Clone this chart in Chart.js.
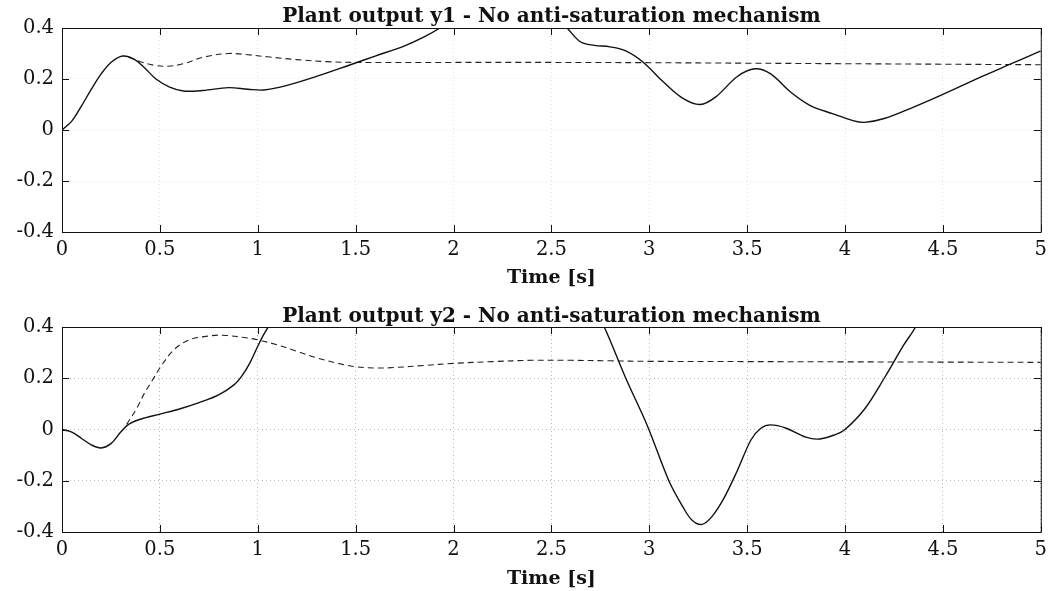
<!DOCTYPE html>
<html><head><meta charset="utf-8">
<script src="https://cdn.jsdelivr.net/npm/chart.js@4"></script>
<style>
html,body{margin:0;padding:0;background:#fff;}
canvas{position:absolute;left:0;}
#c1{top:0px}
#c2{top:296px}
</style>
</head><body>
<canvas id="c1" width="1053" height="296"></canvas>
<canvas id="c2" width="1053" height="295"></canvas>
<script>
// ---- tick values and labels ----
const xTicks = [0, 0.5, 1, 1.5, 2, 2.5, 3, 3.5, 4, 4.5, 5];
const xTickLabels = ['0', '0.5', '1', '1.5', '2', '2.5', '3', '3.5', '4', '4.5', '5'];
const yTicks = [-0.4, -0.2, 0, 0.2, 0.4];
const yTickLabels = ['-0.4', '-0.2', '0', '0.2', '0.4'];

const title1 = 'Plant output y1 - No anti-saturation mechanism';
const title2 = 'Plant output y2 - No anti-saturation mechanism';
const xTitle = 'Time [s]';

// ---- y1 (top plot) ----
const y1SolidT = [0, 0.05, 0.1, 0.15, 0.2, 0.25, 0.31, 0.37, 0.42, 0.48, 0.55, 0.62, 0.72, 0.85, 0.95, 1.03, 1.15, 1.3, 1.47, 1.6, 1.75, 1.85, 1.93, 2.0, 2.2, 2.4, 2.5, 2.58, 2.65, 2.72, 2.8, 2.88, 2.97, 3.07, 3.17, 3.26, 3.34, 3.45, 3.54, 3.62, 3.72, 3.82, 3.94, 4.04, 4.1, 4.2, 4.35, 4.5, 4.7, 4.85, 5.0];
const y1SolidV = [0, 0.035, 0.095, 0.16, 0.22, 0.265, 0.29, 0.277, 0.245, 0.2, 0.168, 0.153, 0.155, 0.166, 0.16, 0.157, 0.175, 0.21, 0.255, 0.29, 0.33, 0.365, 0.40, 0.44, 0.5, 0.5, 0.46, 0.40, 0.345, 0.332, 0.326, 0.31, 0.265, 0.19, 0.125, 0.10, 0.13, 0.21, 0.24, 0.22, 0.15, 0.097, 0.063, 0.037, 0.03, 0.045, 0.09, 0.14, 0.21, 0.26, 0.31];
const y1DashT = [0.34, 0.4, 0.47, 0.54, 0.62, 0.72, 0.85, 0.95, 1.05, 1.2, 1.35, 1.5, 2.0, 2.5, 3.0, 3.5, 4.0, 4.5, 5.0];
const y1DashV = [0.285, 0.268, 0.254, 0.25, 0.26, 0.285, 0.30, 0.295, 0.287, 0.276, 0.268, 0.265, 0.265, 0.265, 0.264, 0.262, 0.26, 0.258, 0.256];

// ---- y2 (bottom plot) ----
const y2SolidT = [0, 0.05, 0.1, 0.15, 0.2, 0.25, 0.3, 0.34, 0.4, 0.5, 0.6, 0.7, 0.8, 0.88, 0.92, 0.96, 1.0, 1.03, 1.06, 1.1, 1.5, 2.0, 2.5, 2.7, 2.77, 2.88, 2.99, 3.1, 3.17, 3.22, 3.27, 3.32, 3.38, 3.45, 3.52, 3.57, 3.62, 3.7, 3.8, 3.87, 3.95, 4.0, 4.1, 4.2, 4.3, 4.36, 4.45];
const y2SolidV = [0, -0.01, -0.035, -0.06, -0.072, -0.055, -0.01, 0.02, 0.04, 0.06, 0.08, 0.105, 0.135, 0.175, 0.21, 0.26, 0.325, 0.37, 0.41, 0.48, 0.8, 0.9, 0.7, 0.5, 0.40, 0.2, 0.015, -0.2, -0.3, -0.355, -0.37, -0.34, -0.27, -0.16, -0.04, 0.005, 0.018, 0.005, -0.03, -0.037, -0.02, 0.0, 0.08, 0.2, 0.33, 0.40, 0.55];
const y2DashT = [0.33, 0.38, 0.42, 0.46, 0.5, 0.57, 0.65, 0.75, 0.82, 0.92, 1.0, 1.1, 1.2, 1.3, 1.4, 1.5, 1.6, 1.7, 1.85, 2.0, 2.2, 2.4, 2.6, 2.8, 3.0, 3.5, 4.0, 4.5, 5.0];
const y2DashV = [0.02, 0.08, 0.14, 0.19, 0.24, 0.31, 0.35, 0.365, 0.368, 0.36, 0.35, 0.33, 0.305, 0.28, 0.26, 0.245, 0.24, 0.242, 0.25, 0.258, 0.265, 0.27, 0.27, 0.268, 0.266, 0.265, 0.264, 0.263, 0.262];

const zip = (t, v) => t.map((x, i) => ({x: x, y: v[i]}));

const frameTicks = {
  id: 'frameTicks',
  afterDraw(chart) {
    const {ctx, chartArea: a, scales: {x, y}} = chart;
    const L = 7;
    ctx.save();
    ctx.strokeStyle = '#111';
    ctx.lineWidth = 1;
    ctx.beginPath();
    ctx.rect(a.left + 0.5, a.top + 0.5, a.right - a.left, a.bottom - a.top);
    xTicks.forEach(v => {
      const px = Math.round(x.getPixelForValue(v)) + 0.5;
      ctx.moveTo(px, a.bottom); ctx.lineTo(px, a.bottom - L);
      ctx.moveTo(px, a.top); ctx.lineTo(px, a.top + L);
    });
    yTicks.forEach(v => {
      const py = Math.round(y.getPixelForValue(v)) + 0.5;
      ctx.moveTo(a.left, py); ctx.lineTo(a.left + L, py);
      ctx.moveTo(a.right, py); ctx.lineTo(a.right - L, py);
    });
    ctx.stroke();
    ctx.restore();
  }
};

function makeChart(id, title, solidT, solidV, dashT, dashV, o) {
  const fam = '"DejaVu Serif", "Liberation Serif", serif';
  const font = {family: fam, size: 19.5};
  return new Chart(document.getElementById(id), {
    type: 'line',
    data: {
      datasets: [
        {data: zip(solidT, solidV), borderColor: '#111', borderWidth: 1.4, pointRadius: 0, tension: 0.35, fill: false},
        {data: zip(dashT, dashV), borderColor: '#222', borderWidth: 1.1, borderDash: [6, 4], pointRadius: 0, tension: 0.35, fill: false}
      ]
    },
    options: {
      responsive: false,
      animation: false,
      events: [],
      layout: {padding: {left: 0, right: 12, top: 0, bottom: 0}},
      plugins: {
        legend: {display: false},
        tooltip: {enabled: false},
        title: {display: true, text: title, color: '#111', fullSize: false,
          font: {family: fam, size: 20, weight: 'bold', lineHeight: 1},
          padding: {top: o.titleTop, bottom: o.titleBottom}}
      },
      scales: {
        x: {
          type: 'linear', min: 0, max: 5,
          afterBuildTicks: s => { s.ticks = xTicks.map(v => ({value: v})); },
          afterFit: s => { s.height = o.xHeight; },
          ticks: {color: '#111', font: font, padding: 6, maxRotation: 0,
            callback: v => { const i = xTicks.findIndex(t => Math.abs(t - v) < 1e-9); return i >= 0 ? xTickLabels[i] : ''; }},
          grid: {color: o.gridColor, lineWidth: 1, drawTicks: false},
          border: {display: false, dash: [1, 3]},
          title: {display: true, text: xTitle, color: '#111',
            font: {family: fam, size: 19, weight: 'bold', lineHeight: 1},
            padding: {top: 0, bottom: o.xTitleBottom}}
        },
        y: {
          type: 'linear', min: -0.4, max: 0.4,
          afterBuildTicks: s => { s.ticks = yTicks.map(v => ({value: v})); },
          afterFit: s => { s.width = 62; },
          ticks: {color: '#111', font: font, padding: 8,
            callback: v => { const i = yTicks.findIndex(t => Math.abs(t - v) < 1e-9); return i >= 0 ? yTickLabels[i] : ''; }},
          grid: {color: o.gridColor, lineWidth: 1, drawTicks: false},
          border: {display: false, dash: [1, 3]}
        }
      }
    },
    plugins: [frameTicks]
  });
}

makeChart('c1', title1, y1SolidT, y1SolidV, y1DashT, y1DashV,
  {titleTop: 7, titleBottom: 1, xHeight: 64, xTitleBottom: 8, gridColor: '#e2e2e2'});
makeChart('c2', title2, y2SolidT, y2SolidV, y2DashT, y2DashV,
  {titleTop: 11, titleBottom: 0, xHeight: 59, xTitleBottom: 2, gridColor: '#b8b8b8'});
</script>
</body></html>
